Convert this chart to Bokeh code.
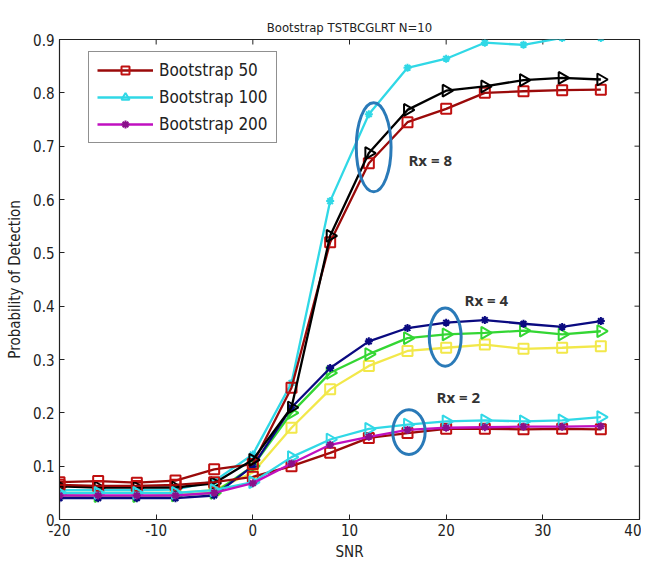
import numpy as np
from bokeh.plotting import figure
from bokeh.models import FixedTicker, Legend, LegendItem, Range1d
from bokeh.core.properties import value
from bokeh.embed import file_html
from bokeh.resources import INLINE

snr = [-20, -16, -12, -8, -4, 0, 4, 8, 12, 16, 20, 24, 28, 32, 36]

# Rx = 8
rx8_b50 = [0.070, 0.072, 0.069, 0.073, 0.094, 0.104, 0.247, 0.520, 0.668, 0.745, 0.770, 0.800, 0.803, 0.805, 0.806]
rx8_b100 = [0.062, 0.060, 0.060, 0.060, 0.068, 0.112, 0.210, 0.532, 0.687, 0.768, 0.804, 0.812, 0.824, 0.828, 0.825]
rx8_b200 = [0.055, 0.055, 0.055, 0.056, 0.072, 0.122, 0.256, 0.597, 0.760, 0.847, 0.864, 0.894, 0.890, 0.903, 0.903]
# Rx = 4
rx4_b50 = [0.050, 0.050, 0.050, 0.050, 0.055, 0.088, 0.172, 0.244, 0.288, 0.316, 0.322, 0.328, 0.320, 0.322, 0.325]
rx4_b100 = [0.045, 0.044, 0.044, 0.045, 0.050, 0.100, 0.200, 0.275, 0.310, 0.340, 0.347, 0.350, 0.354, 0.347, 0.353]
rx4_b200 = [0.040, 0.040, 0.040, 0.040, 0.045, 0.100, 0.210, 0.284, 0.334, 0.359, 0.369, 0.374, 0.367, 0.361, 0.372]
# Rx = 2
rx2_b50 = [0.065, 0.063, 0.063, 0.065, 0.070, 0.080, 0.100, 0.125, 0.153, 0.162, 0.170, 0.170, 0.169, 0.170, 0.169]
rx2_b100 = [0.050, 0.050, 0.050, 0.050, 0.055, 0.070, 0.117, 0.150, 0.170, 0.178, 0.184, 0.186, 0.184, 0.186, 0.192]
rx2_b200 = [0.045, 0.045, 0.045, 0.045, 0.050, 0.068, 0.105, 0.140, 0.155, 0.168, 0.172, 0.173, 0.174, 0.174, 0.175]

legend_labels = ["Bootstrap 50", "Bootstrap 100", "Bootstrap 200"]
rx_labels = ["Rx = 8", "Rx = 4", "Rx = 2"]
x_ticks = [-20, -10, 0, 10, 20, 30, 40]
y_ticks = [0, 0.1, 0.2, 0.3, 0.4, 0.5, 0.6, 0.7, 0.8, 0.9]
X_MIN, X_MAX, Y_MIN, Y_MAX = -20, 40, 0, 0.9

FONT = "DejaVu Sans Condensed"
INK = "#222222"

p = figure(frame_width=580, frame_height=480, output_backend="svg", toolbar_location=None,
           x_range=Range1d(X_MIN, X_MAX), y_range=Range1d(Y_MIN, Y_MAX),
           min_border_left=59, min_border_right=2, min_border_top=39, min_border_bottom=0,
           title="Bootstrap TSTBCGLRT N=10")
p.title.align = "center"
p.title.text_font = FONT
p.title.text_font_size = "13px"
p.title.text_font_style = "normal"
p.title.text_color = INK
p.grid.visible = False
p.outline_line_color = INK
p.outline_line_width = 1.2
p.background_fill_color = "white"

for ax in p.xaxis + p.yaxis:
    ax.major_tick_in = 5
    ax.major_tick_out = 0
    ax.minor_tick_line_color = None
    ax.major_label_text_font = FONT
    ax.major_label_text_font_size = "15px"
    ax.major_label_text_color = INK
    ax.axis_label_text_font = FONT
    ax.axis_label_text_font_size = "15px"
    ax.axis_label_text_font_style = "normal"
    ax.axis_label_text_color = INK
    ax.axis_line_color = INK
    ax.major_tick_line_color = INK

p.xaxis.ticker = FixedTicker(ticks=x_ticks)
p.yaxis.ticker = FixedTicker(ticks=y_ticks)
p.yaxis.major_label_overrides = {0: "0"}
p.xaxis.major_label_overrides = {t: str(t) for t in x_ticks}
p.xaxis.axis_label = "SNR"
p.yaxis.axis_label = "Probability of Detection"
p.xaxis.major_label_standoff = 4
p.xaxis.axis_label_standoff = 4
p.yaxis.major_label_standoff = 5
p.yaxis.axis_label_standoff = 6

# inward ticks on the top and right edges of the box
p.ray(x=x_ticks, y=Y_MAX, length=5, length_units="screen", angle=-np.pi / 2,
      line_color=INK, line_width=1)
p.ray(x=X_MAX, y=y_ticks, length=5, length_units="screen", angle=np.pi,
      line_color=INK, line_width=1)

tri_angle = -np.pi / 2
LW = 2.3

def series(ys, color, marker, mcolor=None, size=10):
    mcolor = mcolor or color
    r = p.line(snr, ys, line_color=color, line_width=LW)
    if marker == "square":
        m = p.scatter(snr, ys, marker="square", size=size, line_color=mcolor, line_width=2, fill_color=None)
    elif marker == "triangle":
        m = p.scatter(snr, ys, marker="triangle", angle=tri_angle, size=size + 2, line_color=mcolor,
                      line_width=2, fill_color=None)
    else:
        m = p.scatter(snr, ys, marker="asterisk", size=size - 2, line_color=mcolor, line_width=2)
    return r, m

# Rx = 4
series(rx4_b50, "#f2e84a", "square")
series(rx4_b100, "#33d633", "triangle")
series(rx4_b200, "#0a0a80", "asterisk")
# Rx = 8
series(rx8_b200, "#30d8e6", "asterisk")
series(rx8_b50, "#9a0a0a", "square", "#c01010")
series(rx8_b100, "#000000", "triangle")
# Rx = 2
l50 = series(rx2_b50, "#9a0a0a", "square", "#c01010")
l100 = series(rx2_b100, "#30d8e6", "triangle")
l200 = series(rx2_b200, "#c010c0", "asterisk", "#8a108a")

# annotations
p.ellipse(x=[12.5, 19.9, 16.15], y=[0.698, 0.342, 0.164], width=[3.6, 3.3, 3.35],
          height=[0.167, 0.109, 0.084], fill_color=None, line_color="#2a7ab8", line_width=3)
p.text(x=[16.1, 21.9, 19.0], y=[0.675, 0.4125, 0.23], text=rx_labels,
       text_font=value("Open Sans"), text_font_size="15px", text_font_style="bold",
       text_color="#333333", text_baseline="middle", text_align="left")

legend = Legend(items=[LegendItem(label=legend_labels[0], renderers=list(l50)),
                       LegendItem(label=legend_labels[1], renderers=list(l100)),
                       LegendItem(label=legend_labels[2], renderers=list(l200))],
                location=(29, 376), orientation="vertical")
legend.label_text_font = FONT
legend.label_text_font_size = "17px"
legend.label_text_color = INK
legend.glyph_width = 56
legend.glyph_height = 20
legend.label_height = 20
legend.spacing = 7
legend.padding = 8
legend.label_standoff = 6
legend.border_line_color = INK
legend.border_line_width = 1.2
legend.background_fill_alpha = 1
p.add_layout(legend)

open("out.html", "w").write(file_html(p, INLINE))
